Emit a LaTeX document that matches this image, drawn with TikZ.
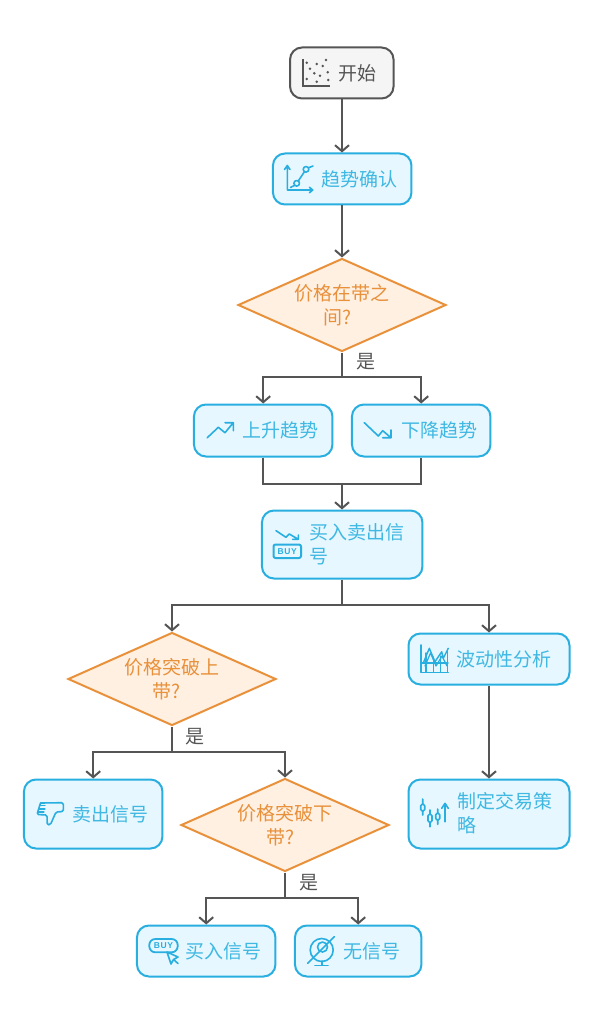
\documentclass[tikz,border=0pt]{standalone}
\usepackage{fontspec}
\usetikzlibrary{shapes.geometric, arrows.meta, positioning}
\newfontfamily\cjkfont{Noto Sans CJK SC}
\setsansfont{Liberation Sans}
\definecolor{flowline}{HTML}{555555}
\definecolor{startfill}{HTML}{F5F5F5}
\definecolor{boxblue}{HTML}{29AEE0}
\definecolor{boxtext}{HTML}{3FB8E2}
\definecolor{boxfill}{HTML}{E6F7FF}
\definecolor{decisionorange}{HTML}{E8903A}
\definecolor{decisionfill}{HTML}{FFF0E2}
\tikzset{
	basefont/.style={font=\cjkfont\fontsize{19}{24}\selectfont},
	startbox/.style={draw=flowline, fill=startfill, line width=2pt, rounded corners=12pt, inner sep=0pt},
	stepbox/.style={draw=boxblue, fill=boxfill, line width=2pt, rounded corners=12pt, inner sep=0pt},
	decision/.style={diamond, draw=decisionorange, fill=decisionfill, line width=2pt, inner sep=0pt,
		aspect=2.24, minimum width=208pt, minimum height=93pt, basefont, text=decisionorange, align=center},
	boxlabel/.style={basefont, text=boxtext, inner sep=0pt, anchor=west, align=left},
	yeslabel/.style={basefont, text=flowline, inner sep=0pt},
	flow/.style={draw=flowline, line width=2pt, -{Straight Barb[length=6pt,width=14pt,line width=2pt]}},
	flowplain/.style={draw=flowline, line width=2pt},
	icon/.style={draw=boxblue, line width=1.6pt, line cap=round, line join=round},
	buytext/.style={font=\sffamily\bfseries\fontsize{8.5}{8.5}\selectfont\addfontfeature{LetterSpace=8}, text=boxblue, inner sep=0pt}
}
\begin{document}
\begin{tikzpicture}[x=1pt, y=-1pt]
	\useasboundingbox (0,0) rectangle (595,1024);
	\node[startbox, minimum width=103.5pt, minimum height=51pt] (start) at (341.8,73) {};
	\node[stepbox, minimum width=138.5pt, minimum height=51pt] (confirm) at (342.2,179) {};
	\node[decision] (between) at (342,305) {价格在带之\\间?\hspace*{10pt}};
	\node[stepbox, minimum width=138.5pt, minimum height=52pt] (up) at (263.2,430.5) {};
	\node[stepbox, minimum width=138.5pt, minimum height=52pt] (down) at (421.2,430.5) {};
	\node[stepbox, minimum width=160.5pt, minimum height=68pt] (signal) at (342.2,544.5) {};
	\node[decision] (breakup) at (172,679) {价格突破上\\带?\hspace*{10pt}};
	\node[stepbox, minimum width=161pt, minimum height=51pt] (vol) at (489,659) {};
	\node[stepbox, minimum width=138.5pt, minimum height=69pt] (sell) at (93.2,814) {};
	\node[decision] (breakdown) at (285,825) {价格突破下\\带?\hspace*{10pt}};
	\node[stepbox, minimum width=161pt, minimum height=69pt] (plan) at (489,814) {};
	\node[stepbox, minimum width=138.5pt, minimum height=51pt] (buy) at (206.2,951) {};
	\node[stepbox, minimum width=126.5pt, minimum height=51pt] (none) at (358.2,951) {};

	\node[boxlabel, text=flowline] (start-t) at (338,73) {开始};
	\node[boxlabel] (confirm-t) at (321,179) {趋势确认};
	\node[boxlabel] (up-t) at (242,430.5) {上升趋势};
	\node[boxlabel] (down-t) at (401,430.5) {下降趋势};
	\node[boxlabel] (signal-t) at (309,544.5) {买入卖出信\\号};
	\node[boxlabel] (vol-t) at (456,659) {波动性分析};
	\node[boxlabel] (sell-t) at (72,814) {卖出信号};
	\node[boxlabel] (plan-t) at (457,813) {制定交易策\\略};
	\node[boxlabel] (buy-t) at (185,951) {买入信号};
	\node[boxlabel] (none-t) at (343,951) {无信号};

	\coordinate (j1) at (342,377);
	\coordinate (j2) at (342,484);
	\coordinate (j3) at (342,605);
	\coordinate (j4) at (172,752);
	\coordinate (j5) at (285,898);
	\draw[flow] (start.south -| j1) -- (confirm.north -| j1);
	\draw[flow] (confirm.south -| j1) -- (between);
	\draw[flowplain] (between) -- (j1);
	\draw[flow] (j1) -| (up);
	\draw[flow] (j1) -| (down);
	\draw[flowplain] (up) |- (j2);
	\draw[flowplain] (down) |- (j2);
	\draw[flow] (j2) -- (signal.north -| j2);
	\draw[flowplain] (signal.south -| j2) -- (j3);
	\draw[flow] (j3) -| (breakup);
	\draw[flow] (j3) -| (vol);
	\draw[flowplain] (breakup) -- (j4);
	\draw[flow] (j4) -| (sell);
	\draw[flow] (j4) -| (breakdown);
	\draw[flow] (vol) -- (plan);
	\draw[flowplain] (breakdown) -- (j5);
	\draw[flow] (j5) -| (buy);
	\draw[flow] (j5) -| (none);

	\node[yeslabel] (yes1) at (365.5,362) {是};
	\node[yeslabel] (yes2) at (195,737) {是};
	\node[yeslabel] (yes3) at (308.5,883) {是};

	\draw[flowline, line width=1.8pt] (303,59) -- (303,86) -- (330,86);
	\foreach \px/\py in {306.7/62.7, 316.7/64, 326/60, 322.7/66, 310/68.7, 314.3/73.3, 327.7/72.3, 320/75.7, 306.7/79, 316.7/81.7, 328.3/80}
		\fill[flowline] (\px,\py) circle (1.4pt);

	\draw[icon] (284.5,169.5) -- (287.3,165.5) -- (290,169.5) (287.3,165.5) -- (287.3,190) -- (312.7,190) (309.5,187.3) -- (312.7,190) -- (309.5,192.7);
	\draw[icon] (296.7,183.3) circle (2.8pt) (306,169.3) circle (2.8pt);
	\draw[icon] (290.5,187.5) -- (294.7,185.3) (298.3,181) -- (304.4,171.7) (308.5,167.8) -- (313,166);

	\draw[icon] (207.3,437.7) -- (218.3,427.3) -- (225,432.7) -- (233.3,422.7) (225,422.7) -- (233.3,422.7) -- (233.3,430.7);
	\draw[icon] (364.3,422.7) -- (378.3,436) -- (382.7,430.7) -- (391,437.7) (391,430) -- (391,437.7) -- (382.7,437.7);

	\draw[icon] (276,530.7) -- (286,537.3) -- (289.3,534) -- (298.3,539.3) (298.3,535) -- (298.3,539.3) -- (292.7,539.3);
	\draw[icon, line width=2pt, rounded corners=2pt] (273.5,544.5) rectangle (301,558);
	\node[buytext] (signal-buy) at (287.2,551.3) {BUY};

	\draw[icon] (420.7,645) -- (420.7,672.3) -- (448.3,672.3);
	\draw[icon, line width=1.4pt] (426,672) -- (426,653) (433.3,672) -- (433.3,657) (440.7,672) -- (440.7,656) (447.7,672) -- (447.7,649) (421,663) -- (448,663);
	\draw[icon, line width=1.4pt] (423.3,663) -- (429.3,648.3) -- (435,661.7) -- (441.7,651.7) -- (443.3,658.3) -- (448.3,648.3);
	\draw[icon, line width=1.2pt] (425,666) -- (430.5,653) -- (436,666) -- (442,656) -- (447,666);

	\draw[icon, rounded corners=1.5pt] (422.7,799) -- (422.7,804.3) (420.7,804.3) rectangle (424.7,811) (422.7,811) -- (422.7,815);
	\draw[icon, rounded corners=1.5pt] (430,810) -- (430,814.3) (428,814.3) rectangle (432,822.3) (430,822.3) -- (430,826.7);
	\draw[icon, rounded corners=1.5pt] (437.7,809) -- (437.7,813.3) (435.7,813.3) rectangle (439.7,820) (437.7,820) -- (437.7,824.3);
	\draw[icon] (445,821.7) -- (445,803.3) (441.7,808.3) -- (445,803.3) -- (448.3,808.3);

	\draw[icon, rounded corners=1.5pt] (40.5,803) -- (63.3,802.7) -- (63.3,811.5) -- (56,812) -- (50.5,824.5) -- (47.3,825) -- (47,815) -- (37,814.5) -- (38.5,809.5) -- (40.5,803);
	\draw[icon, line width=1.2pt] (39,809) -- (45,809) (39.5,805.5) -- (45,805.5) (38,812) -- (44,812);

	\draw[icon, line width=1.8pt, rounded corners=6pt] (149.3,939) rectangle (177.7,952.3);
	\node[buytext] (buy-buy) at (163.5,945.7) {BUY};
	\draw[icon, fill=boxfill] (167,952) -- (178,957) -- (173.5,959.5) -- (171,964) -- cycle (173.5,959.5) -- (178,963.5);

	\draw[icon] (321.7,950) circle (11.5pt) (322.5,947) circle (5pt);
	\draw[icon] (321.7,961) -- (321.7,965) (315,965.5) -- (328,965.5);
	\draw[icon] (307.7,963.3) -- (334.3,936.7);
\end{tikzpicture}
\end{document}
